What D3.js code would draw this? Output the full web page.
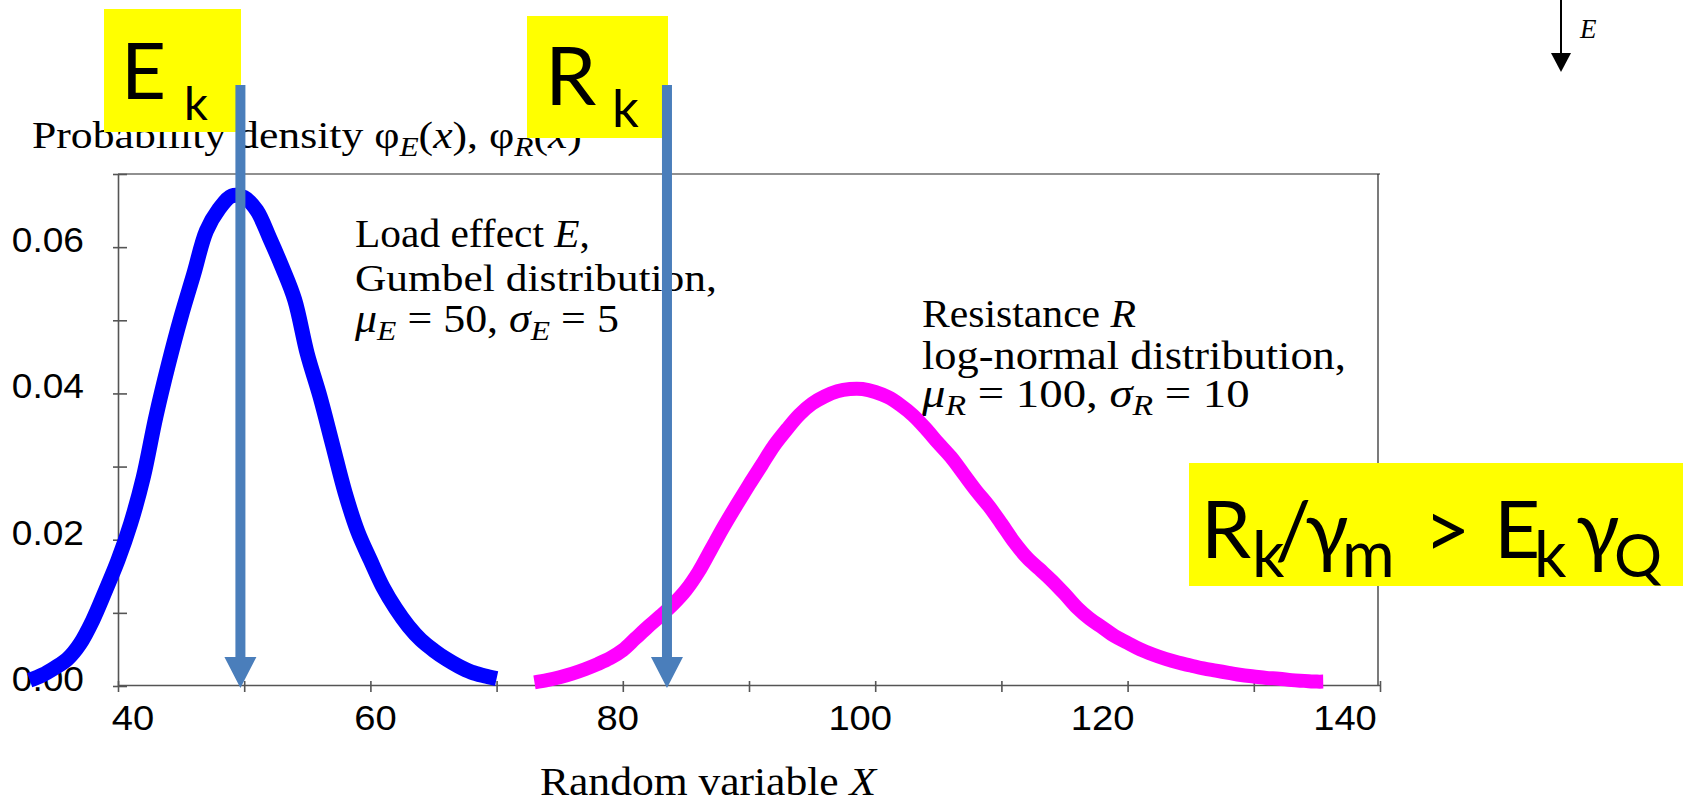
<!DOCTYPE html>
<html><head><meta charset="utf-8">
<script src="https://cdn.jsdelivr.net/npm/d3@7"></script>
<style>body{margin:0;background:#fff;overflow:hidden}</style>
</head><body><svg id="c" width="1683" height="804"></svg>
<script>
// ---------- data ----------
const loadX = [33,34,35,36,37,38,39,40,41,42,43,44,45,46,47,48,49,50,51,52,53,54,55,56,57,58,59,60,61,62,63,64,65,66,67,68,69,70];
const loadDensity = [0.0008,0.0015,0.0025,0.0037,0.0058,0.0090,0.0130,0.0172,0.0222,0.0285,0.0368,0.0440,0.0505,0.0563,0.0622,0.0652,0.0670,0.0668,0.0650,0.0613,0.0573,0.0528,0.0454,0.0396,0.0330,0.0264,0.0211,0.0172,0.0135,0.0106,0.0082,0.0063,0.0049,0.0037,0.0027,0.0019,0.0014,0.0010];
const resX = [73,74,75,76,77,78,79,80,81,82,83,84,85,86,87,88,89,90,91,92,93,94,95,96,97,98,99,100,101,102,103,104,105,106,107,108,109,110,111,112,113,114,115,116,117,118,119,120,121,122,123,124,125,126,127,128,129,130,131,132,133,134,135,135.5];
const resDensity = [0.0005,0.0008,0.0012,0.0017,0.0023,0.0030,0.0038,0.0049,0.0065,0.0081,0.0096,0.0112,0.0131,0.0156,0.0187,0.0218,0.0247,0.0275,0.0302,0.0329,0.0351,0.0371,0.0386,0.0396,0.0403,0.0406,0.0406,0.0402,0.0395,0.0384,0.0370,0.0352,0.0332,0.0313,0.0290,0.0267,0.0246,0.0222,0.0197,0.0176,0.0160,0.0144,0.0126,0.0107,0.0092,0.0080,0.0068,0.0059,0.0050,0.0043,0.0037,0.0032,0.0028,0.0024,0.0021,0.0018,0.0015,0.0013,0.0011,0.0010,0.0008,0.0007,0.0006,0.0006];
const xTicks = [40,50,60,70,80,90,100,110,120,130,140];
const xTickLabels = [40,60,80,100,120,140];
const yTicks = [0,0.01,0.02,0.03,0.04,0.05,0.06,0.07];
const yTickLabels = [0,0.02,0.04,0.06];
const markerNames = ["E","R"];
const markerX = [49.7, 83.5];

// ---------- setup ----------
const svg = d3.select("#c");
svg.append("rect").attr("width",1683).attr("height",804).attr("fill","#fff");
const x = d3.scaleLinear([40,140],[118,1380]);
const y = d3.scaleLinear([0,0.07],[686,174]);
const xLabelPos = d3.scaleLinear([40,140],[133,1345]);
const SERIF = "'Liberation Serif','Times New Roman',serif";
const SANS = "'Liberation Sans',Arial,sans-serif";
const BOX = "Lato,'Open Sans',sans-serif";

// frame
const frame = svg.append("g").attr("fill","none");
frame.append("line").attr("x1",x(40)).attr("x2",x(140)).attr("y1",y(0.07)).attr("y2",y(0.07)).attr("stroke","#222").attr("stroke-width",1.2);
frame.append("line").attr("x1",x(140)-2).attr("x2",x(140)-2).attr("y1",y(0.07)).attr("y2",y(0)).attr("stroke","#222").attr("stroke-width",1.2);

// axes
const gy = svg.append("g").attr("transform",`translate(${x(40)},0)`)
  .call(d3.axisLeft(y).tickValues(yTicks).tickSizeInner(-9).tickSizeOuter(0).tickFormat(""));
gy.selectAll(".tick line").attr("x1",-5);
gy.selectAll("path,line").attr("stroke","#555").attr("stroke-width",1.6);
const gx = svg.append("g").attr("transform",`translate(0,${y(0)-1})`)
  .call(d3.axisBottom(x).tickValues(xTicks).tickSizeInner(7).tickSizeOuter(0).tickFormat(""));
gx.selectAll(".tick line").attr("y1",-4);
gx.selectAll("path,line").attr("stroke","#555").attr("stroke-width",1.6);

// tick labels
const fmtY = d3.format(".2f");
svg.append("g").selectAll("text").data(yTickLabels).join("text")
  .attr("font-family",SANS).attr("font-size",35).attr("text-anchor","end")
  .attr("transform",d=>`translate(84,${y(d)+5}) scale(1.06,1)`).text(fmtY);
svg.append("g").selectAll("text").data(xTickLabels).join("text")
  .attr("font-family",SANS).attr("font-size",35).attr("text-anchor","middle")
  .attr("transform",d=>`translate(${xLabelPos(d)},730) scale(1.09,1)`).text(d=>d);

// rich text helper
function rich(g, px, py, size, target, segs){
  const t = g.append("text").attr("font-family",SERIF).attr("font-size",size).attr("fill","#000");
  let off = 0;
  segs.forEach(s=>{
    const want = s.sub ? size*0.2 : 0;
    const ts = t.append("tspan").text(s.t).attr("dy", want-off);
    off = want;
    if(s.i) ts.attr("font-style","italic");
    if(s.sub) ts.attr("font-size", size*0.72);
  });
  const w = t.node().getBBox().width;
  const sc = target ? target/w : 1;
  t.attr("transform",`translate(${px},${py}) scale(${sc},1)`);
  return t;
}
const texts = svg.append("g");
rich(texts,32,148,38,550,[{t:"Probability density φ"},{t:"E",i:1,sub:1},{t:"("},{t:"x",i:1},{t:"), φ"},{t:"R",i:1,sub:1},{t:"("},{t:"x",i:1},{t:")"}]);
rich(texts,355,247,39,235,[{t:"Load effect "},{t:"E",i:1},{t:","}]);
rich(texts,355,291,39,362,[{t:"Gumbel distribution,"}]);
rich(texts,355,332,39,265,[{t:"μ",i:1},{t:"E",i:1,sub:1},{t:" = 50, "},{t:"σ",i:1},{t:"E",i:1,sub:1},{t:" = 5"}]);
rich(texts,922,327,40,214,[{t:"Resistance "},{t:"R",i:1}]);
rich(texts,922,369,40,424,[{t:"log-normal distribution,"}]);
rich(texts,922,407,40,329,[{t:"μ",i:1},{t:"R",i:1,sub:1},{t:" = 100, "},{t:"σ",i:1},{t:"R",i:1,sub:1},{t:" = 10"}]);
rich(texts,540,795,40,338,[{t:"Random variable "},{t:"X",i:1}]);

// curves
const line = d3.line().x(d=>x(d[0])).y(d=>y(d[1])).curve(d3.curveCatmullRom.alpha(0.5));
svg.append("path").datum(loadX.map((v,i)=>[v,loadDensity[i]]))
  .attr("d",line).attr("fill","none").attr("stroke","#0000ff").attr("stroke-width",15).attr("stroke-linejoin","round");
svg.append("path").datum(resX.map((v,i)=>[v,resDensity[i]]))
  .attr("d",line).attr("fill","none").attr("stroke","#ff00ff").attr("stroke-width",14).attr("stroke-linejoin","round");

// yellow boxes
const boxes = svg.append("g");
boxes.append("rect").attr("x",104).attr("y",9).attr("width",137).attr("height",123).attr("fill","#ffff00");
boxes.append("rect").attr("x",527).attr("y",16).attr("width",141).attr("height",122).attr("fill","#ffff00");
boxes.append("rect").attr("x",1189).attr("y",463).attr("width",494).attr("height",123).attr("fill","#ffff00");
function boxText(parts){
  const t = boxes.append("text").attr("font-family",BOX).attr("fill","#000");
  parts.forEach(p=>t.append("tspan").attr("x",p[1]).attr("y",p[2]).attr("font-size",p[3]).text(p[0]));
}
boxText([[markerNames[0]+" ",121,99,78],["k",184,120,47]]);
boxText([[markerNames[1]+" ",545,105,82],["k",612,127,53]]);
boxText([["R",1201,558,80],["k",1252,577,64],["/",1275,558,80],["γ",1305,558,80],["m ",1342,577,64],
  ["> ",1424,558,80],["E",1494,558,80],["k ",1534,577,64],["γ",1576,558,80],["Q",1614,577,60]]);

// arrows Ek, Rk
svg.append("g").selectAll("path").data(markerX).join("path")
  .attr("fill","#4a7ebb")
  .attr("d",v=>{const c=x(v), top=85, hb=y(0)-29, tip=y(0)+2;
    return `M${c-5},${top}L${c+5},${top}L${c+5},${hb}L${c+16},${hb}L${c},${tip}L${c-16},${hb}L${c-5},${hb}Z`;});

// top-right arrow E
const tr = svg.append("g");
tr.append("line").attr("x1",1561).attr("x2",1561).attr("y1",0).attr("y2",56).attr("stroke","#000").attr("stroke-width",2);
tr.append("path").attr("d","M1551,53L1571,53L1561,72Z").attr("fill","#000");
tr.append("text").attr("x",1580).attr("y",38).attr("font-family",SERIF).attr("font-style","italic").attr("font-size",27).text("E");
</script></body></html>
